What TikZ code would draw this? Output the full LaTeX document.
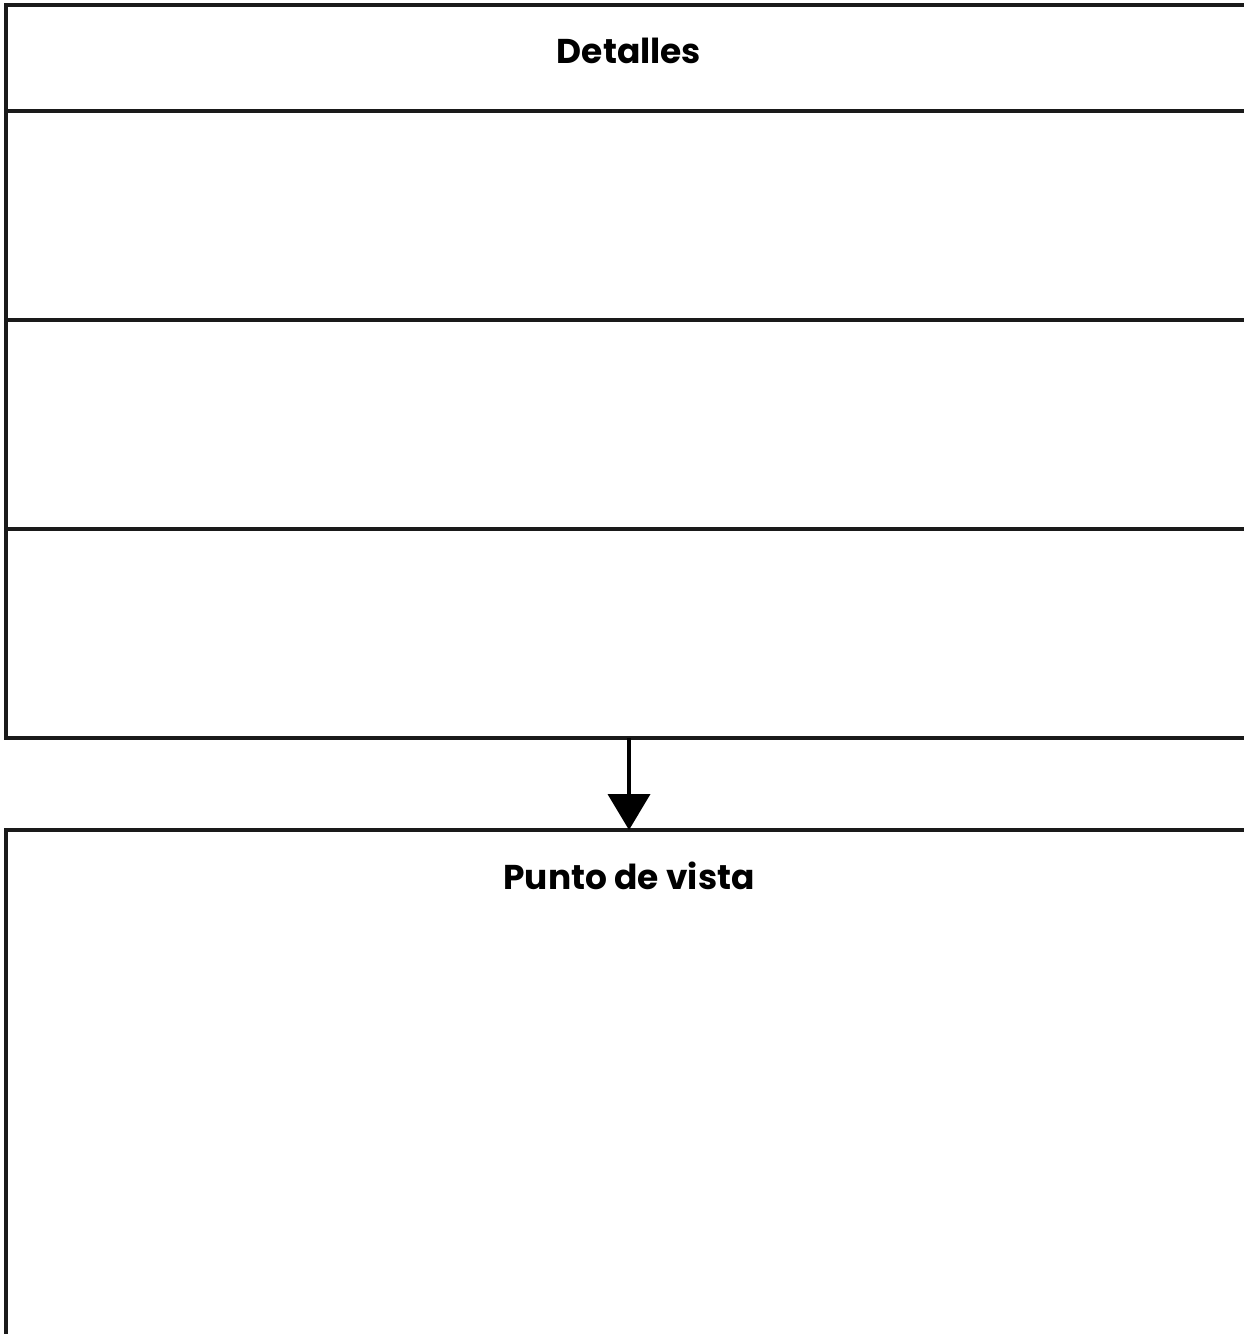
\documentclass[tikz,border=0pt]{standalone}
\usepackage{fontspec}
\setmainfont{Poppins}
\usetikzlibrary{arrows.meta}
\definecolor{edge}{HTML}{1A1A1A}
\tikzset{
  cell/.style={draw=edge, line width=2.3pt, rectangle, inner sep=0pt, outer sep=0pt, anchor=north west, minimum width=933pt},
  head/.style={font=\fontsize{25.8}{30}\selectfont\bfseries, inner sep=0pt},
  link/.style={line width=3pt, -{Triangle[width=31.5pt,length=27pt]}}
}
\begin{document}
\begin{tikzpicture}[x=0.75pt,y=-0.75pt]
\useasboundingbox (0,0) rectangle (1244,1334);
\clip (0,0) rectangle (1244,1334);
\node[cell, minimum height=79.5pt] (r0) at (6,5) {};
\node[cell, minimum height=156.75pt] (r1) at (6,111) {};
\node[cell, minimum height=156.75pt] (r2) at (6,320) {};
\node[cell, minimum height=156.75pt] (r3) at (6,529) {};
\node[cell, minimum height=427.5pt] (pv) at (6,830) {};
\node[head] (t1) at (629,51) {Detalles};
\node[head] (t2) at (629,876) {Punto de vista};
\draw[link] (r3.south -| t1) -- (pv.north -| t1);
\end{tikzpicture}
\end{document}
